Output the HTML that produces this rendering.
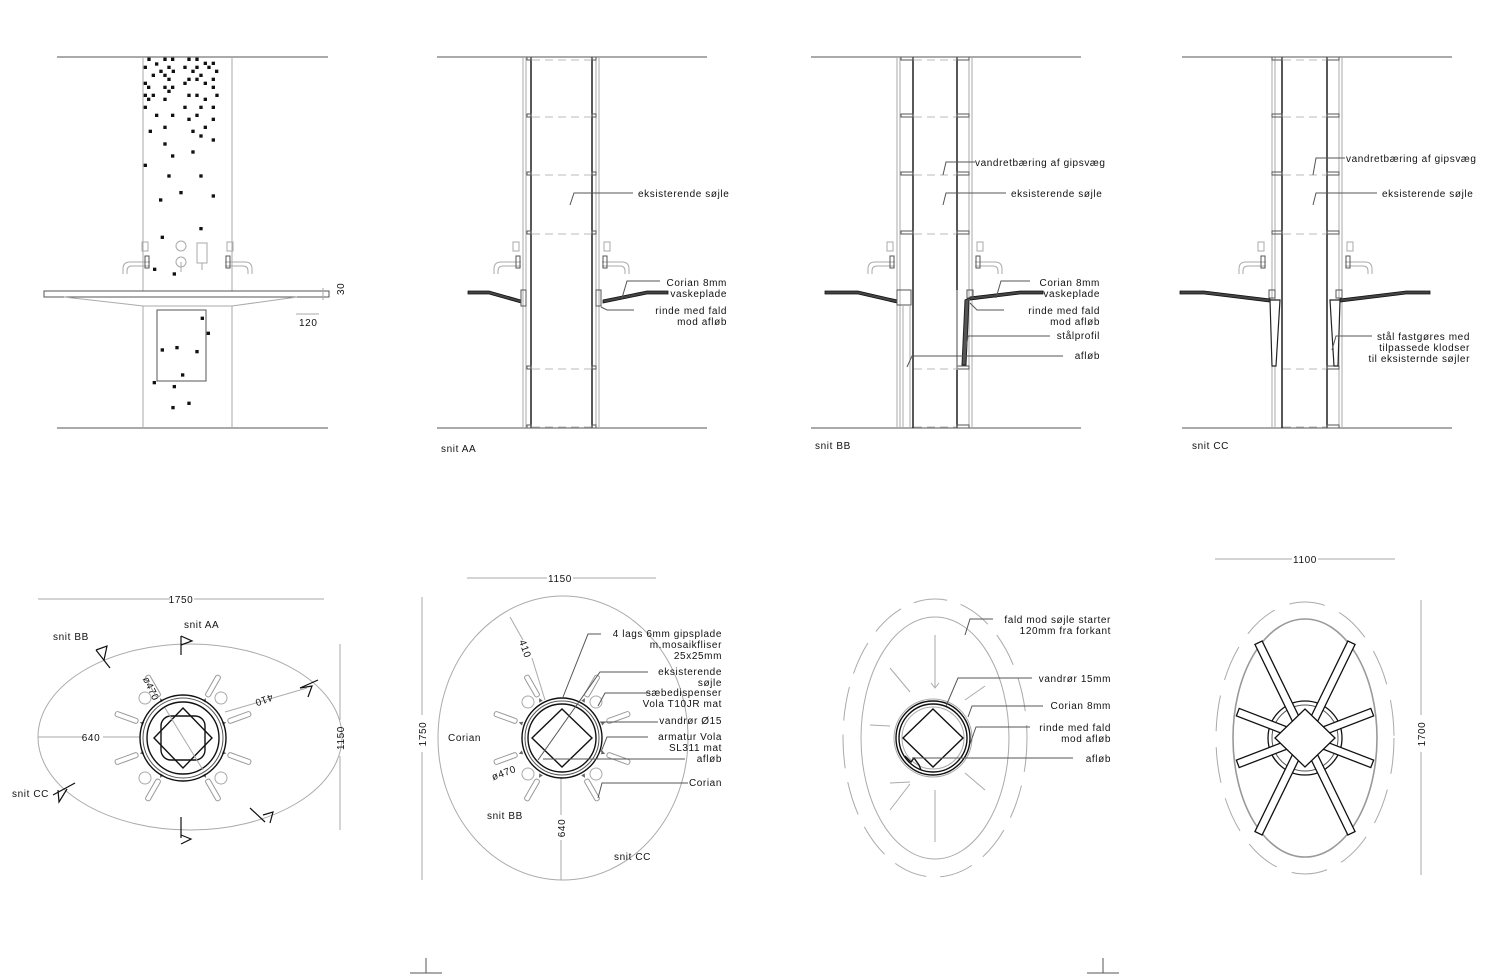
<!DOCTYPE html>
<html><head><meta charset="utf-8"><style>
html,body{margin:0;padding:0;background:#fff}
svg{display:block}
text{font-family:"Liberation Sans",sans-serif;font-size:10px;fill:#111;letter-spacing:0.6px}
.t{stroke:#555;stroke-width:1;fill:none}
.g{stroke:#aaa;stroke-width:1;fill:none}
.k{stroke:#111;stroke-width:1.4;fill:none}
.d{stroke:#bbb;stroke-width:1;fill:none;stroke-dasharray:8,5}
.r{text-anchor:end}
.p{fill:#444;stroke:#111;stroke-width:0.8}
</style></head><body>
<svg width="1500" height="975" viewBox="0 0 1500 975" xmlns="http://www.w3.org/2000/svg">
<defs>
<g id="spk"><rect x="48" y="-2.5" width="24" height="5" rx="2" fill="none" stroke="#999"/><path d="M46,0 l-4,-2 v4z" fill="#666"/></g>
<g id="faucL"><path d="M0,0 H-20 Q-27,0 -27,7 V12 M0,4 H-18 Q-23,4 -23,9 V12" class="g"/><rect x="-5" y="-6" width="4" height="12" class="t"/><rect x="-8" y="-20" width="6" height="9" class="g"/></g>
</defs>

<!-- ============ ELEVATION ============ -->
<line x1="57" y1="57" x2="328" y2="57" class="t"/>
<line x1="57" y1="428" x2="328" y2="428" class="t"/>
<line x1="143" y1="57" x2="143" y2="291" class="g"/><line x1="232" y1="57" x2="232" y2="291" class="g"/>
<line x1="143" y1="306" x2="143" y2="428" class="g"/><line x1="232" y1="306" x2="232" y2="428" class="g"/>
<g transform="translate(40,50) scale(0.3333)" fill="#111">
<rect x="322" y="23" width="10" height="10"/><rect x="370" y="23" width="10" height="10"/><rect x="393" y="23" width="10" height="10"/><rect x="442" y="23" width="10" height="10"/><rect x="466" y="23" width="10" height="10"/>
<rect x="345" y="37" width="10" height="10"/><rect x="311" y="47" width="10" height="10"/><rect x="358" y="59" width="10" height="10"/><rect x="382" y="47" width="10" height="10"/><rect x="430" y="47" width="10" height="10"/><rect x="466" y="47" width="10" height="10"/>
<rect x="491" y="35" width="10" height="10"/><rect x="515" y="35" width="10" height="10"/><rect x="502" y="47" width="10" height="10"/><rect x="454" y="59" width="10" height="10"/><rect x="395" y="59" width="10" height="10"/><rect x="335" y="71" width="10" height="10"/>
<rect x="370" y="71" width="10" height="10"/><rect x="478" y="71" width="10" height="10"/><rect x="525" y="59" width="10" height="10"/><rect x="515" y="83" width="10" height="10"/><rect x="382" y="83" width="10" height="10"/><rect x="442" y="83" width="10" height="10"/>
<rect x="466" y="83" width="10" height="10"/><rect x="311" y="95" width="10" height="10"/><rect x="430" y="95" width="10" height="10"/><rect x="491" y="95" width="10" height="10"/><rect x="321" y="107" width="10" height="10"/><rect x="370" y="107" width="10" height="10"/>
<rect x="393" y="107" width="10" height="10"/><rect x="515" y="107" width="10" height="10"/><rect x="382" y="119" width="10" height="10"/><rect x="311" y="131" width="10" height="10"/><rect x="335" y="131" width="10" height="10"/><rect x="442" y="131" width="10" height="10"/>
<rect x="466" y="131" width="10" height="10"/><rect x="526" y="131" width="10" height="10"/><rect x="321" y="143" width="10" height="10"/><rect x="370" y="143" width="10" height="10"/><rect x="491" y="143" width="10" height="10"/><rect x="311" y="167" width="10" height="10"/>
<rect x="430" y="167" width="10" height="10"/><rect x="478" y="167" width="10" height="10"/><rect x="515" y="167" width="10" height="10"/><rect x="345" y="191" width="10" height="10"/><rect x="393" y="191" width="10" height="10"/><rect x="466" y="191" width="10" height="10"/>
<rect x="442" y="203" width="10" height="10"/><rect x="515" y="203" width="10" height="10"/><rect x="370" y="227" width="10" height="10"/><rect x="491" y="227" width="10" height="10"/><rect x="326" y="239" width="10" height="10"/><rect x="454" y="239" width="10" height="10"/>
<rect x="478" y="253" width="10" height="10"/><rect x="515" y="265" width="10" height="10"/><rect x="370" y="277" width="10" height="10"/><rect x="393" y="313" width="10" height="10"/><rect x="454" y="301" width="10" height="10"/><rect x="311" y="341" width="10" height="10"/>
<rect x="382" y="373" width="10" height="10"/><rect x="478" y="373" width="10" height="10"/><rect x="418" y="423" width="10" height="10"/><rect x="515" y="433" width="10" height="10"/><rect x="357" y="445" width="10" height="10"/><rect x="478" y="531" width="10" height="10"/>
<rect x="362" y="557" width="10" height="10"/><rect x="339" y="653" width="10" height="10"/><rect x="398" y="667" width="10" height="10"/>
<rect x="482" y="800" width="10" height="10"/><rect x="500" y="845" width="10" height="10"/><rect x="362" y="895" width="10" height="10"/><rect x="406" y="888" width="10" height="10"/><rect x="466" y="900" width="10" height="10"/><rect x="423" y="970" width="10" height="10"/>
<rect x="338" y="993" width="10" height="10"/><rect x="398" y="1005" width="10" height="10"/><rect x="394" y="1068" width="10" height="10"/><rect x="442" y="1055" width="10" height="10"/>
</g>
<rect x="44" y="291" width="285" height="6" class="t"/>
<path d="M64,297 L143,306 H232 L297,297" class="g"/>
<rect x="157" y="310" width="49" height="71" class="t"/>
<g transform="translate(150,262)"><use href="#faucL"/></g>
<g transform="translate(225,262) scale(-1,1)"><use href="#faucL"/></g>
<circle cx="181" cy="246" r="5" class="g"/><circle cx="181" cy="262" r="5" class="g"/><line x1="181" y1="262" x2="181" y2="272" class="g"/>
<rect x="197" y="243" width="10" height="20" class="g"/><line x1="202" y1="263" x2="202" y2="270" class="g"/>
<line x1="323" y1="288" x2="323" y2="300" class="g"/>
<line x1="296" y1="314" x2="319" y2="314" class="g"/>
<text x="338" y="297" transform="rotate(-90 340 293)">30</text>
<text x="299" y="326">120</text>

<!-- ============ SNIT AA ============ -->
<line x1="437" y1="57" x2="707" y2="57" class="t"/><line x1="437" y1="428" x2="707" y2="428" class="t"/>
<line x1="523" y1="57" x2="523" y2="428" class="g"/><line x1="526" y1="57" x2="526" y2="428" class="g"/>
<line x1="531" y1="57" x2="531" y2="428" class="k"/><line x1="592" y1="57" x2="592" y2="428" class="k"/>
<line x1="596" y1="57" x2="596" y2="428" class="g"/><line x1="599" y1="57" x2="599" y2="428" class="g"/>
<g class="t">
<rect x="527" y="57" width="4" height="3"/><rect x="592" y="57" width="4" height="3"/>
<rect x="527" y="114" width="4" height="3"/><rect x="592" y="114" width="4" height="3"/>
<rect x="527" y="172" width="4" height="3"/><rect x="592" y="172" width="4" height="3"/>
<rect x="527" y="231" width="4" height="3"/><rect x="592" y="231" width="4" height="3"/>
<rect x="527" y="366" width="4" height="3"/><rect x="592" y="366" width="4" height="3"/>
<rect x="527" y="425" width="4" height="3"/><rect x="592" y="425" width="4" height="3"/>
</g>
<g class="d"><line x1="532" y1="60" x2="591" y2="60"/><line x1="532" y1="117" x2="591" y2="117"/><line x1="532" y1="175" x2="591" y2="175"/><line x1="532" y1="234" x2="591" y2="234"/><line x1="532" y1="369" x2="591" y2="369"/><line x1="532" y1="427" x2="591" y2="427"/></g>
<g transform="translate(521,262)"><use href="#faucL"/></g>
<g transform="translate(602,262) scale(-1,1)"><use href="#faucL"/></g>
<path d="M468,291 H489 L521,300 V303 L489,294 H468 Z" class="p"/><rect x="521" y="290" width="5" height="16" class="t"/>
<path d="M668,291 H647 L603,300 V303 L647,294 H668 Z" class="p"/><rect x="596" y="290" width="5" height="16" class="t"/>
<path d="M570,205 L574,193 H633" class="t"/>
<text x="638" y="197">eksisterende søjle</text>
<path d="M622,298 L627,281 H660" class="t"/><path d="M601,307 L607,310 H634" class="t"/>
<text x="727" y="286" class="r">Corian 8mm</text><text x="727" y="297" class="r">vaskeplade</text>
<text x="727" y="314" class="r">rinde med fald</text><text x="727" y="325" class="r">mod afløb</text>
<text x="441" y="452">snit AA</text>

<!-- ============ SNIT BB ============ -->
<line x1="811" y1="57" x2="1081" y2="57" class="t"/><line x1="811" y1="428" x2="1081" y2="428" class="t"/>
<line x1="897" y1="57" x2="897" y2="428" class="g"/><line x1="900" y1="57" x2="900" y2="428" class="g"/>
<line x1="913" y1="57" x2="913" y2="428" class="k"/><line x1="957" y1="57" x2="957" y2="428" class="k"/>
<line x1="969" y1="57" x2="969" y2="428" class="g"/><line x1="972" y1="57" x2="972" y2="428" class="g"/>
<g class="t">
<rect x="901" y="57" width="12" height="3"/><rect x="957" y="57" width="12" height="3"/>
<rect x="901" y="114" width="12" height="3"/><rect x="957" y="114" width="12" height="3"/>
<rect x="901" y="172" width="12" height="3"/><rect x="957" y="172" width="12" height="3"/>
<rect x="901" y="231" width="12" height="3"/><rect x="957" y="231" width="12" height="3"/>
<rect x="957" y="366" width="12" height="3"/><rect x="957" y="425" width="12" height="3"/>
</g>
<g class="d"><line x1="914" y1="60" x2="956" y2="60"/><line x1="914" y1="117" x2="956" y2="117"/><line x1="914" y1="175" x2="956" y2="175"/><line x1="914" y1="234" x2="956" y2="234"/><line x1="914" y1="369" x2="956" y2="369"/><line x1="914" y1="427" x2="956" y2="427"/></g>
<g transform="translate(895,262)"><use href="#faucL"/></g>
<g transform="translate(975,262) scale(-1,1)"><use href="#faucL"/></g>
<path d="M825,291 H858 L897,300 V303 L858,294 H825 Z" class="p"/><rect x="897" y="290" width="14" height="15" class="t"/>
<line x1="903" y1="305" x2="903" y2="428" class="g"/><line x1="910" y1="305" x2="910" y2="428" class="g"/>
<path d="M1043,291 H1020 L970,297 V300 L1020,294 H1043 Z" class="p"/><rect x="967" y="290" width="6" height="8" class="t"/>
<path d="M970,298 L965,300 L962,365 H966 L969,300" fill="#555" stroke="#222"/>
<line x1="957" y1="290" x2="957" y2="370" class="g"/>
<path d="M943,175 L946,162 H975" class="t"/><text x="975" y="166">vandretbæring af gipsvæg</text>
<path d="M943,205 L946,193 H1006" class="t"/><text x="1011" y="197">eksisterende søjle</text>
<path d="M996,298 L1001,281 H1030" class="t"/><path d="M970,303 L977,310 H1004" class="t"/>
<text x="1100" y="286" class="r">Corian 8mm</text><text x="1100" y="297" class="r">vaskeplade</text>
<text x="1100" y="314" class="r">rinde med fald</text><text x="1100" y="325" class="r">mod afløb</text>
<path d="M964,360 L968,336 H1050" class="t"/><text x="1100" y="339" class="r">stålprofil</text>
<path d="M907,367 L912,356 H1063" class="t"/><text x="1100" y="359" class="r">afløb</text>
<text x="815" y="449">snit BB</text>

<!-- ============ SNIT CC ============ -->
<line x1="1182" y1="57" x2="1452" y2="57" class="t"/><line x1="1182" y1="428" x2="1452" y2="428" class="t"/>
<line x1="1272" y1="57" x2="1272" y2="428" class="g"/><line x1="1275" y1="57" x2="1275" y2="428" class="g"/>
<line x1="1282" y1="57" x2="1282" y2="428" class="k"/><line x1="1327" y1="57" x2="1327" y2="428" class="k"/>
<line x1="1339" y1="57" x2="1339" y2="428" class="g"/><line x1="1342" y1="57" x2="1342" y2="428" class="g"/>
<g class="t">
<rect x="1272" y="57" width="10" height="3"/><rect x="1327" y="57" width="12" height="3"/>
<rect x="1272" y="114" width="10" height="3"/><rect x="1327" y="114" width="12" height="3"/>
<rect x="1272" y="172" width="10" height="3"/><rect x="1327" y="172" width="12" height="3"/>
<rect x="1272" y="231" width="10" height="3"/><rect x="1327" y="231" width="12" height="3"/>
<rect x="1327" y="366" width="12" height="3"/><rect x="1327" y="425" width="12" height="3"/>
</g>
<g class="d"><line x1="1283" y1="60" x2="1326" y2="60"/><line x1="1283" y1="117" x2="1326" y2="117"/><line x1="1283" y1="175" x2="1326" y2="175"/><line x1="1283" y1="234" x2="1326" y2="234"/><line x1="1283" y1="369" x2="1326" y2="369"/><line x1="1283" y1="427" x2="1326" y2="427"/></g>
<g transform="translate(1266,262)"><use href="#faucL"/></g>
<g transform="translate(1345,262) scale(-1,1)"><use href="#faucL"/></g>
<path d="M1180,291 H1204 L1270,299 V302 L1204,294 H1180 Z" class="p"/>
<path d="M1270,300 L1280,300 L1276,366 H1272 Z" fill="#fff" stroke="#222" stroke-width="1.2"/>
<rect x="1269" y="290" width="6" height="8" class="t"/>
<path d="M1430,291 H1406 L1340,299 V302 L1406,294 H1430 Z" class="p"/>
<path d="M1340,300 L1330,300 L1334,366 H1338 Z" fill="#fff" stroke="#222" stroke-width="1.2"/>
<rect x="1336" y="290" width="6" height="8" class="t"/>
<path d="M1313,175 L1316,158 H1345" class="t"/><text x="1346" y="162">vandretbæring af gipsvæg</text>
<path d="M1313,205 L1316,193 H1377" class="t"/><text x="1382" y="197">eksisterende søjle</text>
<path d="M1332,350 L1336,336 H1372" class="t"/>
<text x="1470" y="340" class="r">stål fastgøres med</text><text x="1470" y="351" class="r">tilpassede klodser</text><text x="1470" y="362" class="r">til eksisternde søjler</text>
<text x="1192" y="449">snit CC</text>

<!-- ============ PLAN 1 ============ -->
<line x1="38" y1="599" x2="170" y2="599" class="g"/><line x1="194" y1="599" x2="324" y2="599" class="g"/>
<text x="181" y="603" text-anchor="middle">1750</text>
<ellipse cx="190" cy="737" rx="152" ry="93" class="g"/>
<line x1="340" y1="644" x2="340" y2="720" class="g"/><line x1="340" y1="756" x2="340" y2="830" class="g"/>
<text x="344" y="738" text-anchor="middle" transform="rotate(-90 344 738)">1150</text>
<line x1="38" y1="737" x2="84" y2="737" class="g"/><line x1="103" y1="737" x2="140" y2="737" class="g"/>
<text x="91" y="741" text-anchor="middle">640</text>
<line x1="225" y1="712" x2="307" y2="688" class="g"/>
<text x="268" y="704" transform="rotate(160 266 700)" text-anchor="middle">410</text>
<text x="148" y="690" transform="rotate(65 148 690)" text-anchor="middle">ø470</text>
<g transform="translate(183,738)">
<use href="#spk" transform="rotate(-120)"/><use href="#spk" transform="rotate(-60)"/><use href="#spk" transform="rotate(-20)"/><use href="#spk" transform="rotate(20)"/><use href="#spk" transform="rotate(60)"/><use href="#spk" transform="rotate(120)"/><use href="#spk" transform="rotate(160)"/><use href="#spk" transform="rotate(200)"/>
<circle cx="-38" cy="-40" r="6" class="g"/><circle cx="38" cy="-40" r="6" class="g"/><circle cx="-38" cy="40" r="6" class="g"/><circle cx="38" cy="40" r="6" class="g"/>
<circle r="43" class="k"/><circle r="40" class="t"/><circle r="36" class="k"/>
<path d="M0,-30 L29,0 L0,30 L-29,0 Z" class="k"/>
<rect x="-22" y="-22" width="44" height="44" rx="10" class="k"/>
<line x1="-18" y1="-30" x2="20" y2="32" class="g"/>
</g>
<g stroke="#111" fill="none" stroke-width="1.2">
<line x1="181" y1="636" x2="181" y2="655"/><path d="M181,636 L192,641 L181,645"/>
<line x1="96" y1="650" x2="110" y2="668"/><path d="M96,650 L107,646 L104,660"/>
<line x1="300" y1="688" x2="318" y2="680"/><path d="M300,688 L312,686 L308,697"/>
<line x1="53" y1="795" x2="75" y2="783"/><path d="M58,790 L59,802 L67,789"/>
<line x1="250" y1="808" x2="265" y2="822"/><path d="M263,815 L273,812 L270,823"/>
<line x1="181" y1="817" x2="181" y2="838"/><path d="M181,835 L191,839 L181,844"/>
</g>
<text x="184" y="628">snit AA</text><text x="53" y="640">snit BB</text><text x="12" y="797">snit CC</text>

<!-- ============ PLAN 2 ============ -->
<line x1="467" y1="578" x2="547" y2="578" class="g"/><line x1="573" y1="578" x2="656" y2="578" class="g"/>
<text x="560" y="582" text-anchor="middle">1150</text>
<line x1="422" y1="597" x2="422" y2="715" class="g"/><line x1="422" y1="752" x2="422" y2="880" class="g"/>
<text x="426" y="734" text-anchor="middle" transform="rotate(-90 426 734)">1750</text>
<ellipse cx="563" cy="738" rx="125" ry="142" class="g"/>
<line x1="510" y1="617" x2="523" y2="640" class="g"/><line x1="532" y1="658" x2="545" y2="700" class="g"/>
<text x="522" y="650" text-anchor="middle" transform="rotate(70 522 650)">410</text>
<line x1="561" y1="777" x2="561" y2="815" class="g"/><line x1="561" y1="840" x2="561" y2="880" class="g"/>
<text x="565" y="828" text-anchor="middle" transform="rotate(-90 565 828)">640</text>
<text x="505" y="776" text-anchor="middle" transform="rotate(-20 505 776)">ø470</text>
<g transform="translate(562,738)">
<use href="#spk" transform="rotate(-120)"/><use href="#spk" transform="rotate(-60)"/><use href="#spk" transform="rotate(-20)"/><use href="#spk" transform="rotate(20)"/><use href="#spk" transform="rotate(60)"/><use href="#spk" transform="rotate(120)"/><use href="#spk" transform="rotate(160)"/><use href="#spk" transform="rotate(200)"/>
<circle cx="-34" cy="-36" r="6" class="g"/><circle cx="34" cy="-36" r="6" class="g"/><circle cx="-34" cy="36" r="6" class="g"/><circle cx="34" cy="36" r="6" class="g"/>
<circle r="40" class="k"/><circle r="37" class="t"/><circle r="34" class="k"/>
<path d="M0,-29 L30,0 L0,29 L-30,0 Z" class="k"/>
</g>
<text x="448" y="741">Corian</text><text x="487" y="819">snit BB</text><text x="614" y="860">snit CC</text>
<path d="M563,697 L588,634 H601" class="t"/>
<text x="722" y="637" class="r">4 lags 6mm gipsplade</text><text x="722" y="648" class="r">m.mosaikfliser</text><text x="722" y="659" class="r">25x25mm</text>
<path d="M538,760 L600,672 H648" class="t"/>
<text x="722" y="675" class="r">eksisterende</text><text x="722" y="686" class="r">søjle</text>
<path d="M598,706 L605,693 H650" class="t"/>
<text x="722" y="696" class="r">sæbedispenser</text><text x="722" y="707" class="r">Vola T10JR mat</text>
<path d="M600,722 H658" class="t"/><text x="722" y="724" class="r">vandrør Ø15</text>
<path d="M601,752 L607,737 H648" class="t"/>
<text x="722" y="740" class="r">armatur Vola</text><text x="722" y="751" class="r">SL311 mat</text>
<path d="M543,759 H685" class="t"/><text x="722" y="762" class="r">afløb</text>
<path d="M598,798 L602,783 H688" class="t"/><text x="722" y="786" class="r">Corian</text>

<!-- ============ PLAN 3 ============ -->
<ellipse cx="935" cy="738" rx="92" ry="139" fill="none" stroke="#aaa" stroke-dasharray="34,14"/>
<ellipse cx="935" cy="738" rx="74" ry="121" class="g"/>
<g class="g">
<line x1="935" y1="635" x2="935" y2="688"/><path d="M931,683 L935,688 L939,683"/>
<line x1="935" y1="842" x2="935" y2="790"/>
<line x1="890" y1="668" x2="910" y2="692"/><line x1="985" y1="686" x2="965" y2="700"/>
<line x1="870" y1="725" x2="890" y2="726"/><line x1="890" y1="810" x2="910" y2="784"/>
<line x1="985" y1="790" x2="965" y2="773"/><line x1="890" y1="783" x2="910" y2="782"/>
</g>
<g transform="translate(933,738)">
<circle r="39" class="g"/><circle r="37" class="k"/><circle r="34" class="k"/><circle r="31" class="g"/>
<path d="M0,-29 L30,0 L0,29 L-30,0 Z" class="k"/>
<path d="M-28,18 L-22,24 L-19,20 L-14,27 L-12,32" class="k"/>
</g>
<path d="M965,635 L970,619 H993" class="t"/>
<text x="1111" y="623" class="r">fald mod søjle starter</text><text x="1111" y="634" class="r">120mm fra forkant</text>
<path d="M946,706 L958,678 H1032" class="t"/><text x="1111" y="682" class="r">vandrør 15mm</text>
<path d="M968,717 L972,706 H1043" class="t"/><text x="1111" y="709" class="r">Corian 8mm</text>
<path d="M970,744 L976,727 H1030" class="t"/>
<text x="1111" y="731" class="r">rinde med fald</text><text x="1111" y="742" class="r">mod afløb</text>
<path d="M912,758 H1073" class="t"/><text x="1111" y="762" class="r">afløb</text>

<!-- ============ PLAN 4 ============ -->
<line x1="1215" y1="559" x2="1292" y2="559" class="g"/><line x1="1318" y1="559" x2="1395" y2="559" class="g"/>
<text x="1305" y="563" text-anchor="middle">1100</text>
<line x1="1421" y1="600" x2="1421" y2="715" class="g"/><line x1="1421" y1="752" x2="1421" y2="875" class="g"/>
<text x="1425" y="734" text-anchor="middle" transform="rotate(-90 1425 734)">1700</text>
<ellipse cx="1305" cy="738" rx="89" ry="136" fill="none" stroke="#aaa" stroke-dasharray="36,16"/>
<ellipse cx="1305" cy="738" rx="72" ry="119" fill="none" stroke="#999" stroke-width="1.6"/>
<g transform="translate(1305,738)" stroke="#111" stroke-width="1.3" fill="#fff">
<circle r="37" fill="none"/><circle r="33" fill="none" stroke="#555" stroke-width="1"/>
<g transform="rotate(-64)"><rect x="18" y="-4" width="88" height="8"/></g>
<g transform="rotate(-116)"><rect x="18" y="-4" width="88" height="8"/></g>
<g transform="rotate(64)"><rect x="18" y="-4" width="88" height="8"/></g>
<g transform="rotate(116)"><rect x="18" y="-4" width="88" height="8"/></g>
<g transform="rotate(-21)"><rect x="18" y="-4" width="54" height="8"/></g>
<g transform="rotate(21)"><rect x="18" y="-4" width="54" height="8"/></g>
<g transform="rotate(159)"><rect x="18" y="-4" width="54" height="8"/></g>
<g transform="rotate(201)"><rect x="18" y="-4" width="54" height="8"/></g>
<path d="M0,-29 L30,0 L0,29 L-30,0 Z"/>
</g>

<!-- bottom markers -->
<line x1="410" y1="973" x2="442" y2="973" class="t"/><line x1="426" y1="958" x2="426" y2="973" class="t"/>
<line x1="1087" y1="973" x2="1119" y2="973" class="t"/><line x1="1103" y1="958" x2="1103" y2="973" class="t"/>
</svg>
</body></html>
